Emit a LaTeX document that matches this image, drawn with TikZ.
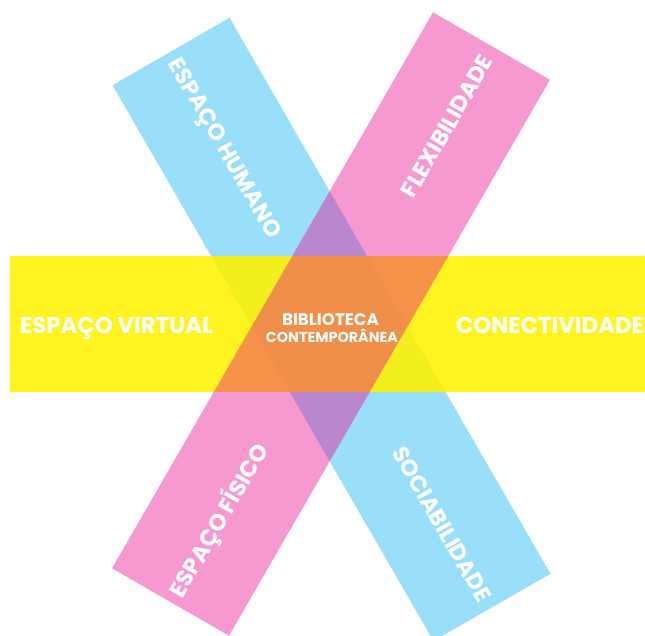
\documentclass[tikz,border=0pt]{standalone}
\usepackage{fontspec}
\setmainfont{Poppins}
\definecolor{cyanC}{RGB}{0,174,239}
\definecolor{magC}{RGB}{236,0,140}
\definecolor{yelC}{RGB}{255,242,0}
\begin{document}
\begin{tikzpicture}[x=1pt,y=-1pt,
  lab/.style={text=white,font=\bfseries\fontsize{22.8}{22.8}\selectfont,inner sep=0pt,anchor=base},
  smalllab/.style={text=white,inner sep=0pt,anchor=base}]
\useasboundingbox (0,0) rectangle (645,636);
\clip (0,0) rectangle (645,636);
% blue band
\fill[cyanC,fill opacity=0.4] (229.5,17.75) -- (550.5,573.75) -- (433.5,641) -- (112.5,85.25) -- cycle;
% yellow band
\fill[yelC,fill opacity=0.88] (10,256) rectangle (645,392);
% pink band
\fill[magC,fill opacity=0.4] (433,12.25) -- (550,79.75) -- (229,635.75) -- (112,568.25) -- cycle;
% labels
\node[lab] (ev) at (116.5,333) {ESPAÇO VIRTUAL};
\node[lab] (co) at (550,333) {CONECTIVIDADE};
\node[smalllab,font=\bfseries\fontsize{16.7}{16.7}\selectfont] (bi) at (330.5,325) {BIBLIOTECA};
\node[smalllab,font=\bfseries\fontsize{14.4}{14.4}\selectfont] (ct) at (332,342) {CONTEMPORÂNEA};
\node[lab,rotate=-60] (eh) at (218.5,151.75) {ESPAÇO HUMANO};
\node[lab,rotate=60] (fl) at (454,130.25) {FLEXIBILIDADE};
\node[lab,rotate=60] (ef) at (226,524.75) {ESPAÇO FÍSICO};
\node[lab,rotate=-60] (so) at (435,528.25) {SOCIABILIDADE};
\end{tikzpicture}
\end{document}
